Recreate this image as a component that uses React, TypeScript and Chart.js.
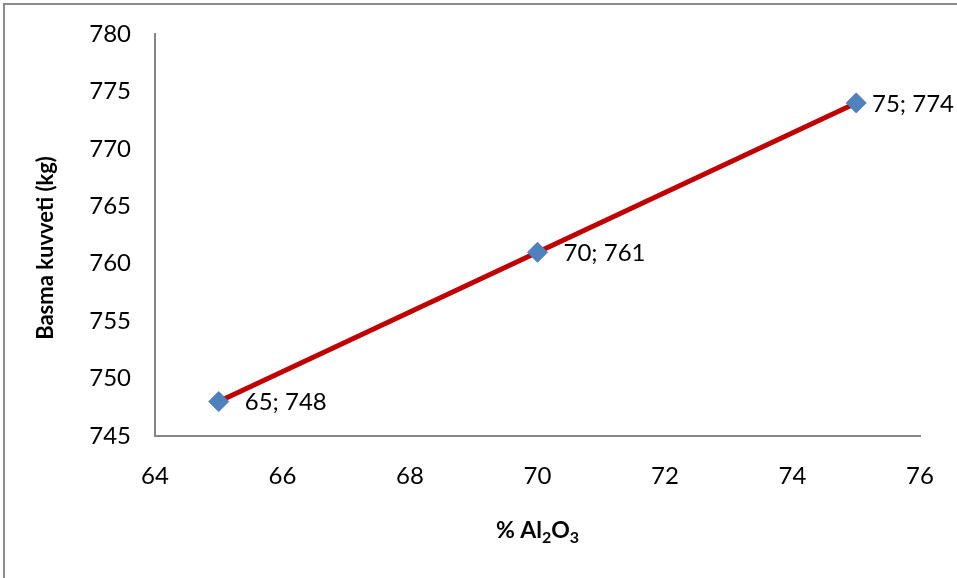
import React, { useEffect, useRef } from "react";
import { Chart, registerables } from "chart.js";

Chart.register(...registerables);

// Alumina content (%) and compressive force (kg)
const aluminaPercent = [65, 70, 75];
const compressiveForce = [748, 761, 774];
const xTickRange = { min: 64, max: 76, step: 2 };
const yTickRange = { min: 745, max: 780, step: 5 };
const yAxisTitle = "Basma kuvveti (kg)";

const FONT = "Lato, 'Open Sans', sans-serif";
const AXIS_GREY = "#868686";

const decorations = {
  id: "decorations",
  afterDraw(chart: any) {
    const { ctx, chartArea, width } = chart;
    ctx.save();

    // outer frame (top and left edges)
    ctx.strokeStyle = "#8c8c8c";
    ctx.lineWidth = 2;
    ctx.beginPath();
    ctx.moveTo(4, chart.height);
    ctx.lineTo(4, 4);
    ctx.lineTo(width, 4);
    ctx.stroke();

    // point labels "x; y"
    const meta = chart.getDatasetMeta(0);
    ctx.font = `24px ${FONT}`;
    ctx.fillStyle = "#000";
    ctx.textBaseline = "middle";
    ctx.textAlign = "left";
    meta.data.forEach((pt: any, i: number) => {
      const text = `${aluminaPercent[i]}; ${compressiveForce[i]}`;
      const w = ctx.measureText(text).width;
      const x = Math.min(pt.x + 26, width - w - 3);
      ctx.fillText(text, x, pt.y + 1);
    });

    // y axis title
    ctx.font = `bold 22px ${FONT}`;
    ctx.textAlign = "center";
    ctx.save();
    ctx.translate(46, (chartArea.top + chartArea.bottom) / 2 + 13);
    ctx.rotate(-Math.PI / 2);
    ctx.fillText(yAxisTitle, 0, 0);
    ctx.restore();

    // x axis title with subscripts: % Al2O3
    const parts: [string, boolean][] = [
      ["% Al", false],
      ["2", true],
      ["O", false],
      ["3", true],
    ];
    const mainFont = `bold 23px ${FONT}`;
    const subFont = `bold 16px ${FONT}`;
    let total = 0;
    parts.forEach(([t, sub]) => {
      ctx.font = sub ? subFont : mainFont;
      total += ctx.measureText(t).width;
    });
    let x = (chartArea.left + chartArea.right) / 2 - total / 2;
    const baseline = 538;
    ctx.textAlign = "left";
    ctx.textBaseline = "alphabetic";
    parts.forEach(([t, sub]) => {
      ctx.font = sub ? subFont : mainFont;
      ctx.fillText(t, x, sub ? baseline + 5 : baseline);
      x += ctx.measureText(t).width;
    });

    ctx.restore();
  },
};

export default function App() {
  const canvasRef = useRef<HTMLCanvasElement>(null);

  useEffect(() => {
    document.body.style.margin = "0";
    const canvas = canvasRef.current!;
    const chart = new Chart(canvas, {
      type: "scatter",
      data: {
        datasets: [
          {
            data: aluminaPercent.map((x, i) => ({ x, y: compressiveForce[i] })),
            showLine: true,
            borderColor: "#C00000",
            borderWidth: 5,
            pointStyle: "rectRot",
            pointRadius: 10,
            pointBackgroundColor: "#4F81BD",
            pointBorderColor: "#4A7EBB",
            pointBorderWidth: 1,
          },
        ],
      },
      options: {
        responsive: false,
        animation: false,
        layout: { padding: { top: 34, right: 37, left: 0, bottom: 0 } },
        plugins: {
          legend: { display: false },
          tooltip: { enabled: false },
          title: { display: false },
        },
        scales: {
          x: {
            type: "linear",
            min: xTickRange.min,
            max: xTickRange.max,
            afterFit: (scale: any) => {
              scale.height = 142;
              scale.paddingLeft = 0;
              scale.paddingRight = 0;
            },
            ticks: {
              stepSize: xTickRange.step,
              padding: 26,
              color: "#000",
              font: { family: FONT, size: 24 },
            },
            grid: { display: false, drawTicks: false },
            border: { display: true, color: AXIS_GREY, width: 2 },
          },
          y: {
            type: "linear",
            min: yTickRange.min,
            max: yTickRange.max,
            afterFit: (scale: any) => {
              scale.width = 155;
              scale.paddingTop = 0;
              scale.paddingBottom = 0;
            },
            ticks: {
              stepSize: yTickRange.step,
              padding: 24,
              color: "#000",
              font: { family: FONT, size: 24 },
            },
            grid: { display: false, drawTicks: false },
            border: { display: true, color: AXIS_GREY, width: 2 },
          },
        },
      },
      plugins: [decorations],
    });
    return () => chart.destroy();
  }, []);

  return (
    <div style={{ width: 957, height: 578, background: "#fff" }}>
      <canvas ref={canvasRef} width={957} height={578} style={{ display: "block" }} />
    </div>
  );
}
